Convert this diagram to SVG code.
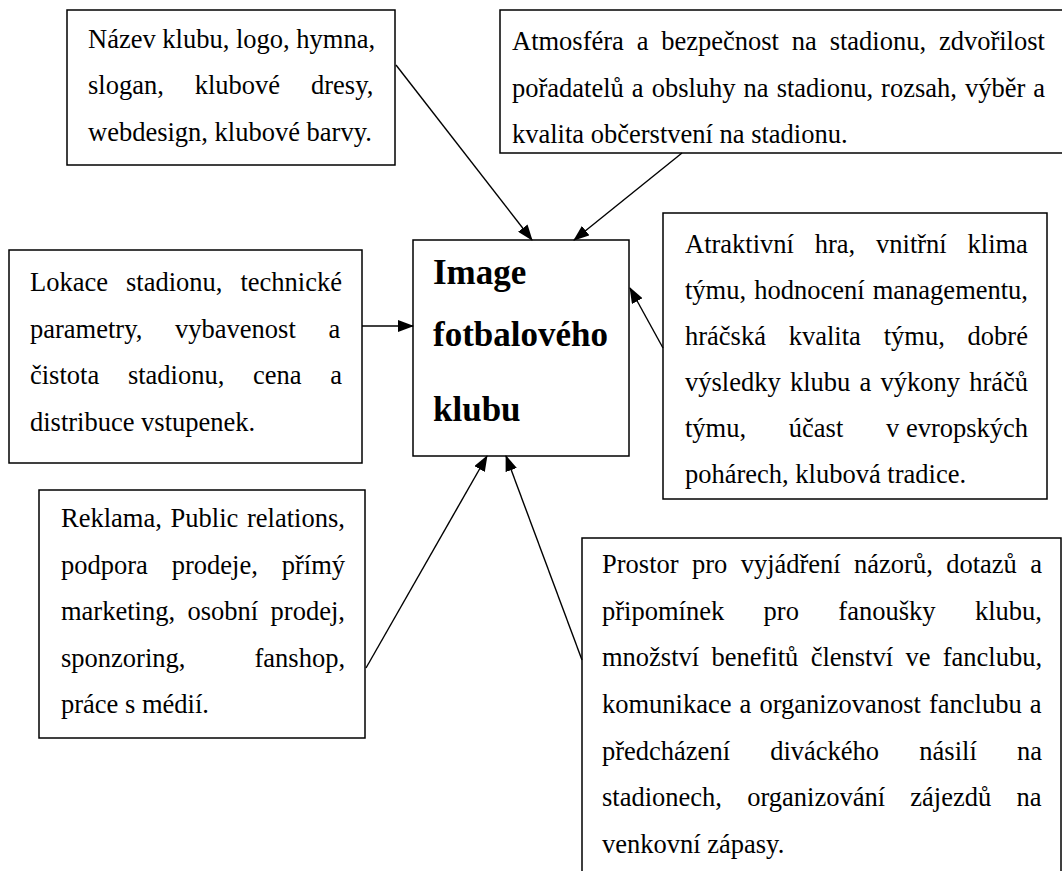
<svg xmlns="http://www.w3.org/2000/svg" width="1062" height="871" viewBox="0 0 1062 871">
<style>
.box{fill:#fff;stroke:#000;stroke-width:1.5}
.t{font-family:"Liberation Serif","Times New Roman",serif;font-size:26.5px;fill:#000}
.b{font-family:"Liberation Serif","Times New Roman",serif;font-size:35px;font-weight:bold;fill:#000}
.c{stroke:#000;stroke-width:1.4;fill:none;marker-end:url(#ah)}
</style>
<defs>
<marker id="ah" markerWidth="16" markerHeight="12" refX="15" refY="6" orient="auto" markerUnits="userSpaceOnUse"><path d="M0,0 L16,6 L0,12 z" fill="#000"/></marker>
</defs>
<rect width="1062" height="871" fill="#fff"/>
<g id="n-identity">
<rect class="box" x="67" y="10" width="328" height="155"/>
<text class="t" x="88" y="47.5">Název klubu, logo, hymna,</text>
<text class="t" x="88" y="94" word-spacing="24.3">slogan, klubové dresy,</text>
<text class="t" x="88" y="140.5">webdesign, klubové barvy.</text>
</g>
<g id="n-atmosphere">
<rect class="box" x="500" y="10" width="620" height="143"/>
<text class="t" x="512" y="50" word-spacing="6.2">Atmosféra a bezpečnost na stadionu, zdvořilost</text>
<text class="t" x="512" y="96.5" word-spacing="1.4">pořadatelů a obsluhy na stadionu, rozsah, výběr a</text>
<text class="t" x="512" y="143">kvalita občerstvení na stadionu.</text>
</g>
<g id="n-stadium">
<rect class="box" x="9" y="250" width="353" height="213"/>
<text class="t" x="30" y="291" word-spacing="11.4">Lokace stadionu, technické</text>
<text class="t" x="30" y="337.5" word-spacing="26.1">parametry, vybavenost a</text>
<text class="t" x="30" y="384" word-spacing="22.1">čistota stadionu, cena a</text>
<text class="t" x="30" y="430.5">distribuce vstupenek.</text>
</g>
<g id="n-center">
<rect class="box" x="413" y="240" width="216" height="216"/>
<text class="b" x="433" y="284">Image</text>
<text class="b" x="433" y="346">fotbalového</text>
<text class="b" x="433" y="421">klubu</text>
</g>
<g id="n-team">
<rect class="box" x="663" y="213" width="384" height="286"/>
<text class="t" x="685" y="253" word-spacing="14.2">Atraktivní hra, vnitřní klima</text>
<text class="t" x="685" y="299" word-spacing="1.5">týmu, hodnocení managementu,</text>
<text class="t" x="685" y="345" word-spacing="16.2">hráčská kvalita týmu, dobré</text>
<text class="t" x="685" y="391" word-spacing="2.6">výsledky klubu a výkony hráčů</text>
<text class="t" y="437"><tspan x="685">týmu,</tspan><tspan x="788.8">účast</tspan><tspan x="886">v evropských</tspan></text>
<text class="t" x="685" y="483">pohárech, klubová tradice.</text>
</g>
<g id="n-marketing">
<rect class="box" x="39" y="490" width="326" height="248"/>
<text class="t" x="61" y="527" word-spacing="2.1">Reklama, Public relations,</text>
<text class="t" x="61" y="573.5" word-spacing="17.3">podpora prodeje, přímý</text>
<text class="t" x="61" y="620" word-spacing="5.8">marketing, osobní prodej,</text>
<text class="t" x="61" y="666.5" word-spacing="62.5">sponzoring, fanshop,</text>
<text class="t" x="61" y="713">práce s médií.</text>
</g>
<g id="n-fans">
<rect class="box" x="582" y="538" width="479" height="400"/>
<text class="t" x="602" y="573" word-spacing="6.75">Prostor pro vyjádření názorů, dotazů a</text>
<text class="t" x="602" y="619.7" word-spacing="32.8">připomínek pro fanoušky klubu,</text>
<text class="t" x="602" y="666.3" word-spacing="5.7">množství benefitů členství ve fanclubu,</text>
<text class="t" x="602" y="713" word-spacing="1.45">komunikace a organizovanost fanclubu a</text>
<text class="t" x="602" y="759.7" word-spacing="33.6">předcházení diváckého násilí na</text>
<text class="t" x="602" y="806.3" word-spacing="18.6">stadionech, organizování zájezdů na</text>
<text class="t" x="602" y="853">venkovní zápasy.</text>
</g>
<g id="connectors">
<line class="c" x1="396" y1="65" x2="532" y2="240"/>
<line class="c" x1="682" y1="153" x2="574" y2="240"/>
<line class="c" x1="362" y1="326" x2="413" y2="326"/>
<line class="c" x1="663" y1="348" x2="630" y2="288"/>
<line class="c" x1="366" y1="668" x2="487" y2="456"/>
<line class="c" x1="582" y1="660" x2="506" y2="456"/>
</g>
</svg>
